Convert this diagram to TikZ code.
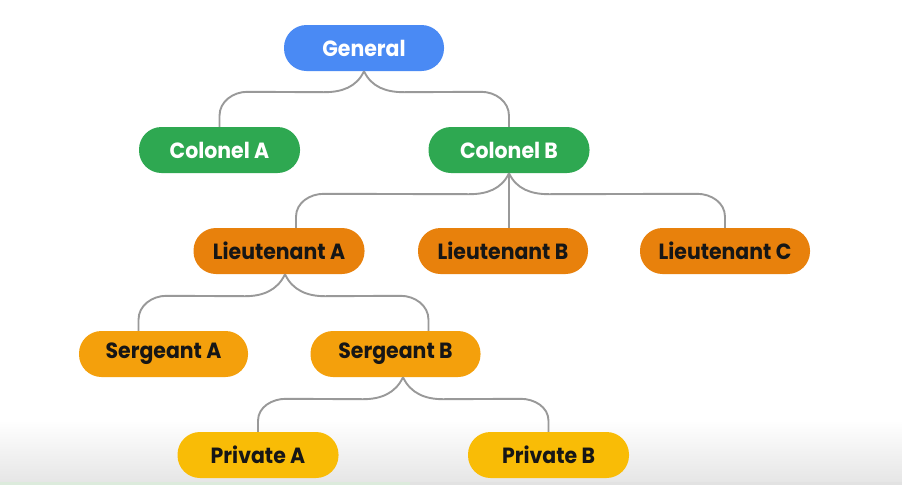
\documentclass[tikz,border=0pt]{standalone}
\usepackage{fontspec}
\setmainfont{Poppins}
\newfontfamily\nodefont{Poppins}[FakeStretch=0.93]
\usetikzlibrary{calc}
\definecolor{cblue}{HTML}{4A8AF4}
\definecolor{cgreen}{HTML}{2EA851}
\definecolor{clt}{HTML}{E8810C}
\definecolor{csg}{HTML}{F4A00C}
\definecolor{cpv}{HTML}{F9BC06}
\definecolor{cline}{HTML}{999999}
\definecolor{ctext}{HTML}{161616}
\definecolor{cband}{HTML}{E6E6E6}
\definecolor{cstripg}{HTML}{DCEBDC}
\definecolor{cstrip}{HTML}{E2E2E2}
\begin{document}
\begin{tikzpicture}[x=1pt,y=1pt,
  pill/.style={rectangle, rounded corners=22.5pt, minimum height=46pt, inner sep=0pt,
    font=\nodefont\bfseries\fontsize{22}{26}\selectfont, text=ctext},
  light/.style={text=white},
  link/.style={draw=cline, line width=1.9pt},
]
\useasboundingbox (0,0) rectangle (902,-485);
\fill[white] (0,0) rectangle (902,-485);
\shade[top color=white, bottom color=cband] (0,-420) rectangle (902,-482);
\fill[cstripg] (0,-482) rectangle (410,-485);
\fill[cstrip] (410,-482) rectangle (902,-485);

\node[pill, light, fill=cblue, minimum width=160pt] (gen) at (364,-48) {General};
\node[pill, light, fill=cgreen, minimum width=161pt] (cola) at (219.5,-150) {Colonel A};
\node[pill, light, fill=cgreen, minimum width=161pt] (colb) at (509,-150) {Colonel B};
\node[pill, fill=clt, minimum width=171pt] (lta) at (279,-251) {Lieutenant A};
\node[pill, fill=clt, minimum width=170pt] (ltb) at (503,-251) {Lieutenant B};
\node[pill, fill=clt, minimum width=170pt] (ltc) at (725,-251) {Lieutenant C};
\node[pill, fill=csg, minimum width=169pt] (sga) at (163.5,-354) {Sergeant A};
\node[pill, fill=csg, minimum width=170pt] (sgb) at (395.5,-354) {Sergeant B};
\node[pill, fill=cpv, minimum width=161pt] (pva) at (258,-455) {Private A};
\node[pill, fill=cpv, minimum width=161pt] (pvb) at (548.5,-455) {Private B};

% General
\draw[link] (gen.south) to[out=-115,in=0] ($(gen.south)+(-40,-21)$)
  -- ($(cola.north)+(28,35)$) to[out=180,in=90] ($(cola.north)+(0,11)$) -- (cola.north);
\draw[link] (gen.south) to[out=-65,in=180] ($(gen.south)+(40,-21)$)
  -- ($(colb.north)+(-28,35)$) to[out=0,in=90] ($(colb.north)+(0,11)$) -- (colb.north);
% Colonel B
\coordinate (lta-in) at ($(lta.north)+(17,0)$);
\draw[link] (colb.south) to[out=-115,in=0] ($(colb.south)+(-40,-21)$)
  -- ($(lta-in)+(28,34)$) to[out=180,in=90] ($(lta-in)+(0,11)$) -- (lta-in);
\draw[link] (colb.south) -- (colb.south |- ltb.north);
\draw[link] (colb.south) to[out=-65,in=180] ($(colb.south)+(40,-21)$)
  -- ($(ltc.north)+(-28,34)$) to[out=0,in=90] ($(ltc.north)+(0,11)$) -- (ltc.north);
% Lieutenant A
\coordinate (lta-out) at ($(lta.south)+(6,0)$);
\coordinate (sga-in) at ($(sga.north)+(-25,0)$);
\coordinate (sgb-in) at ($(sgb.north)+(33,0)$);
\draw[link] (lta-out) to[out=-115,in=0] ($(lta-out)+(-40,-22)$)
  -- ($(sga-in)+(28,35)$) to[out=180,in=90] ($(sga-in)+(0,11)$) -- (sga-in);
\draw[link] (lta-out) to[out=-65,in=180] ($(lta-out)+(40,-22)$)
  -- ($(sgb-in)+(-28,35)$) to[out=0,in=90] ($(sgb-in)+(0,11)$) -- (sgb-in);
% Sergeant B
\coordinate (sgb-out) at ($(sgb.south)+(7.5,0)$);
\draw[link] (sgb-out) to[out=-115,in=0] ($(sgb-out)+(-40,-22)$)
  -- ($(pva.north)+(28,33)$) to[out=180,in=90] ($(pva.north)+(0,11)$) -- (pva.north);
\draw[link] (sgb-out) to[out=-65,in=180] ($(sgb-out)+(40,-22)$)
  -- ($(pvb.north)+(-28,33)$) to[out=0,in=90] ($(pvb.north)+(0,11)$) -- (pvb.north);
\end{tikzpicture}
\end{document}
